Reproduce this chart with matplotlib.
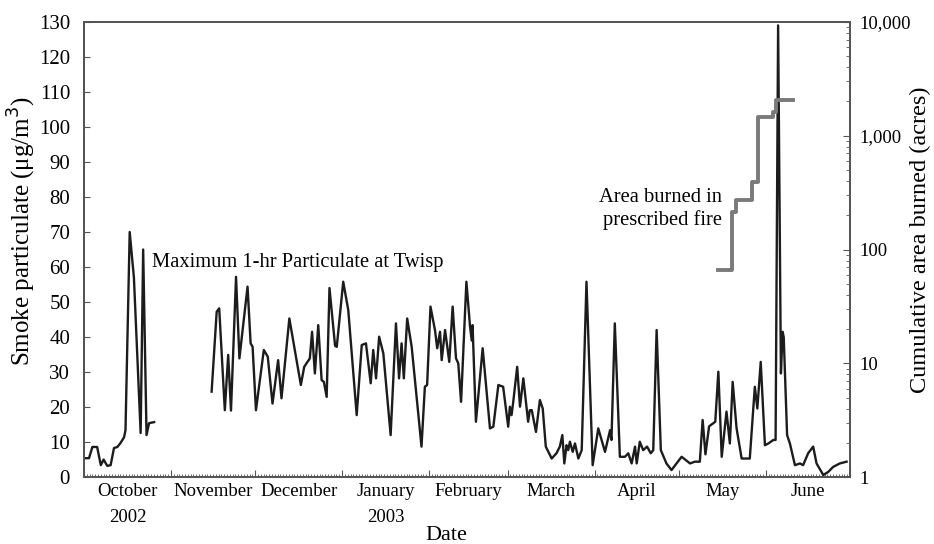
import numpy as np
import pandas as pd
import matplotlib
matplotlib.use("Agg")
import matplotlib.pyplot as plt
import matplotlib.dates as mdates
import matplotlib.ticker as mticker
import matplotlib.transforms as mtransforms

plt.rcParams['font.family'] = ['Liberation Serif', 'DejaVu Serif']

start = pd.Timestamp("2002-10-01")
end = pd.Timestamp("2003-07-01")

# Maximum 1-hr smoke particulate at Twisp (ug/m3), days after 1 Oct 2002
pm_days = [0, 1.8, 3, 4.7, 6, 7, 8.3, 9.5, 10.7, 11.9, 13, 14.3, 14.8, 16.3, 17.8,
           20.2, 21.1, 22.3, 23.2, 25,
           35,
           45.5, 47.3, 48.2, 50.2, 51.4, 52.4, 54.2, 55.4, 58.3, 59.4, 60.1, 61.3,
           64.1, 65.5, 67.2, 69.2, 70.4, 73.2, 77.3, 78.5, 80.5, 81.3, 82.3, 83.5,
           84.7, 85.5, 86.5, 87.5, 89.5, 90.1, 92.4, 94.2, 97.2, 99, 100.5, 102.2,
           103.1, 104.1, 105.2, 106.7, 109.3, 111.2, 112.3, 113.2, 114, 115.2,
           116.8, 120.3, 121.5, 122.3, 123.5, 125.1, 125.9, 126.9, 127.5, 128.7,
           130.2, 131.4, 132.6, 133.4, 134.4, 136.3, 137.6, 138.2, 138.5, 139.7,
           142.1, 144.7, 145.9, 147.7, 149.4, 151.2, 151.8, 152.4, 153, 154.4,
           155.4, 156.6, 157.5, 158.3, 158.9, 159.6, 161.1, 162.5, 163.5, 164.6,
           166.7, 168.4, 169.6, 170.5, 171.2, 172, 172.6, 173.2, 174.2, 175,
           176.2, 177.4, 179.1, 181.3, 183.3, 185.7, 187.5, 188, 189.2, 191,
           192.8, 194, 195.2, 196.4, 197, 198.1, 199.3, 200.7, 202, 202.9, 204.1,
           205.6, 207.6, 209.4, 211.2, 213, 216, 217.7, 219.5, 220.5, 221.5,
           222.8, 225, 226.1, 227.3, 229, 230.2, 231.2, 232.6, 234.4, 237.3,
           239.1, 240, 241.2, 242.7, 243.9, 245.7, 246.5, 247.4, 248.4, 249,
           249.4, 250.6, 251.6, 253.4, 255.2, 256.3, 258.1, 259.9, 261.1, 263.5,
           265.3, 267, 269.4, 271.8]
pm_values = [5.4, 5.4, 8.6, 8.6, 3.4, 5, 3.2, 3.4, 8.3, 8.6, 9.7, 11.4, 13.4, 70, 57,
             12.6, 65, 12, 15.4, 15.7,
             np.nan,
             24.4, 47.2, 48.2, 19.1, 34.9, 19, 57.2, 33.9, 54.4, 38.2, 37.2, 19.1,
             36.3, 34.4, 21, 33.4, 22.5, 45.3, 26.3, 31.5, 33.9, 41.5, 29.6, 43.4,
             27.7, 27.2, 22.9, 54, 37.5, 37.2, 55.8, 47.7, 17.7, 37.7, 38.2, 26.8,
             36.3, 28.2, 40.1, 35.3, 12, 43.9, 28.2, 38.2, 28.2, 45.3,
             37.2, 8.7, 25.8, 26.3, 48.7, 42, 36.8, 41.5, 33.4, 42,
             32.9, 48.7, 33.9, 32.5, 21.5, 55.8, 43, 39, 43.4, 15.8,
             36.8, 13.9, 14.4, 26.3, 25.8, 14.4, 20.1, 17.7, 21.5, 31.5,
             20.1, 28.2, 21.5, 15.8, 19.1, 19.1, 12.9, 22, 19.6, 8.7,
             5.3, 6.8, 8.7, 12, 3.9, 9.1, 7.7, 10.1, 7.2, 9.6,
             5.3, 7.7, 55.8, 3.4, 13.9, 7.2, 13.4, 10.6, 43.9, 5.8,
             5.8, 6.8, 3.9, 8.7, 3.9, 10.1, 7.7, 8.7, 6.8, 7.7, 42,
             7.7, 3.9, 2, 3.9, 5.8, 3.9, 4.4, 4.4, 16.3, 6.5,
             14.5, 15.8, 30.1, 5.8, 18.7, 9.6, 27.2, 13.9, 5.3, 5.3,
             25.8, 19.6, 32.9, 9.1, 9.6, 10.6, 10.6, 129, 29.6, 41.5,
             40, 12, 9.6, 3.4, 3.9, 3.4, 6.8, 8.7, 3.9, 0.6,
             1.5, 2.9, 3.9, 4.4]

# Cumulative area burned in prescribed fire (acres)
burn_days = [226, 231, 232.3, 238.1, 240.2, 245.6, 246.8, 252.7]
burn_acres = [66, 215, 275, 390, 1450, 1600, 2050, 2050]

months = ["October", "November", "December", "January", "February",
          "March", "April", "May", "June"]
month_starts = pd.date_range("2002-10-01", periods=9, freq="MS")
years = {"October": "2002", "January": "2003"}

pm_dates = start + pd.to_timedelta(pm_days, unit="D")
burn_dates = start + pd.to_timedelta(burn_days, unit="D")

fig = plt.figure(figsize=(9.34, 5.44), dpi=100)
ax = fig.add_axes([0.0899, 0.123, 0.8201, 0.8367])
ax2 = ax.twinx()

spine_color = "#555555"
for a in (ax, ax2):
    for s in a.spines.values():
        s.set_color(spine_color)
        s.set_linewidth(1.4)

ax.plot(pm_dates, pm_values, color="#1c1c1c", lw=1.7, zorder=3)
ax2.plot(burn_dates, burn_acres, color="#7a7a7a", lw=2.8, drawstyle="steps-post",
         zorder=2)

ax.set_xlim(start, end)
ax.set_ylim(0, 130)
ax.set_yticks(np.arange(0, 131, 10))
ax.tick_params(axis="y", direction="in", length=4, labelsize=15, pad=10,
               color=spine_color)

ax2.set_yscale("log")
ax2.set_ylim(1, 10000)
ax2.yaxis.set_major_locator(mticker.LogLocator(base=10, numticks=10))
ax2.yaxis.set_minor_locator(mticker.LogLocator(base=10, subs=np.arange(2, 10), numticks=10))
ax2.yaxis.set_major_formatter(mticker.FuncFormatter(lambda v, p: f"{v:,.0f}"))
ax2.yaxis.set_minor_formatter(mticker.NullFormatter())
ax2.tick_params(axis="y", which="major", direction="in", length=5, labelsize=13.5,
                pad=7, color=spine_color)
ax2.tick_params(axis="y", which="minor", direction="in", length=3, color=spine_color)

# x axis: month boundaries plus daily minor ticks, labels mid-month
ax.xaxis.set_major_locator(mdates.MonthLocator())
ax.xaxis.set_minor_locator(mdates.DayLocator())
ax.xaxis.set_major_formatter(mticker.NullFormatter())
ax.tick_params(axis="x", which="major", direction="in", length=5, color=spine_color)
ax.tick_params(axis="x", which="minor", direction="in", length=2, width=0.6,
               color=spine_color)

trans = mtransforms.blended_transform_factory(ax.transData, fig.transFigure)
for name, ms in zip(months, month_starts):
    nxt = ms + pd.offsets.MonthBegin(1)
    mid = ms + (nxt - ms) / 2
    ax.text(mdates.date2num(mid), 0.096, name, transform=trans, ha="center",
            va="center", fontsize=13.5)
    if name in years:
        ax.text(mdates.date2num(mid), 0.049, years[name], transform=trans,
                ha="center", va="center", fontsize=13.5)

fig.text(0.478, 0.015, "Date", ha="center", va="center", fontsize=16)
fig.text(0.024, 0.575, "Smoke particulate (\u03bcg/m$^3$)", rotation=90,
         ha="center", va="center", fontsize=18)
fig.text(0.985, 0.56, "Cumulative area burned (acres)", rotation=90,
         ha="center", va="center", fontsize=17.5)

ax.text(start + pd.Timedelta(days=24.3), 61.2, "Maximum 1-hr Particulate at Twisp",
        ha="left", va="center", fontsize=14.8)
ax.text(start + pd.Timedelta(days=227.4), 76.5, "Area burned in\nprescribed fire",
        ha="right", va="center", fontsize=14.8, linespacing=1.2)

fig.savefig("out.png", dpi=100)
